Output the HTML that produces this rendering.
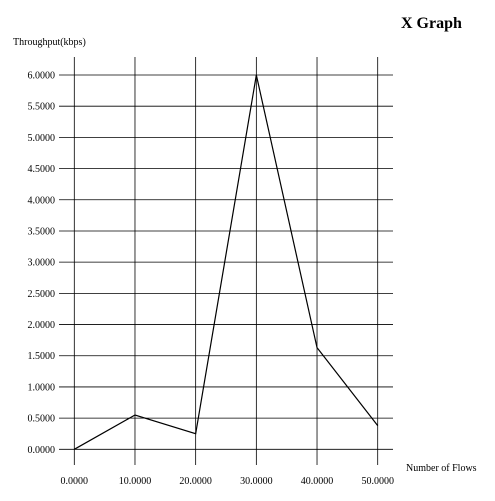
<!DOCTYPE html>
<html><head><meta charset="utf-8"><style>
body{margin:0;background:#fff;width:495px;height:496px;overflow:hidden}
svg text{font-family:"Liberation Serif",serif;fill:#000}
</style></head><body>
<svg width="495" height="496">
<text x="401" y="28" font-size="16" font-weight="bold">X Graph</text>
<text x="13" y="45" font-size="10">Throughput(kbps)</text>
<text x="406" y="471" font-size="10">Number of Flows</text>
<g id="grid"></g><g id="labels"></g><g id="series"></g>
</svg>
<script>
const xCategories=[0,10,20,30,40,50];
const yTicks=[0,0.5,1,1.5,2,2.5,3,3.5,4,4.5,5,5.5,6];
const throughput=[0,0.55,0.25,6.0,1.63,0.38];
const NS="http://www.w3.org/2000/svg";
const xs=v=>74.3+v*6.068;
const ys=v=>449.3-v*62.38;
const grid=document.getElementById('grid'),labels=document.getElementById('labels'),series=document.getElementById('series');
function mk(tag,attrs,parent){const e=document.createElementNS(NS,tag);for(const k in attrs)e.setAttribute(k,attrs[k]);parent.appendChild(e);return e;}
yTicks.forEach(v=>{
 const l=mk('line',{x1:59,x2:393,y1:ys(v),y2:ys(v),stroke:'#000','stroke-width':0.8},grid);
 
 
 const t=mk('text',{x:55,y:ys(v)+3.5,'font-size':10,'text-anchor':'end'},labels);
 t.textContent=v.toFixed(4);
 
 
});
xCategories.forEach(v=>{
 const l=mk('line',{x1:xs(v),x2:xs(v),y1:57,y2:465,stroke:'#000','stroke-width':0.8},grid);
 
 
 const t=mk('text',{x:xs(v),y:484,'font-size':10,'text-anchor':'middle'},labels);
 t.textContent=v.toFixed(4);
 
 
});
const p=mk('polyline',{points:xCategories.map((x,i)=>xs(x)+','+ys(throughput[i])).join(' '),fill:'none',stroke:'#000','stroke-width':1.2},series);


</script>
</body></html>
